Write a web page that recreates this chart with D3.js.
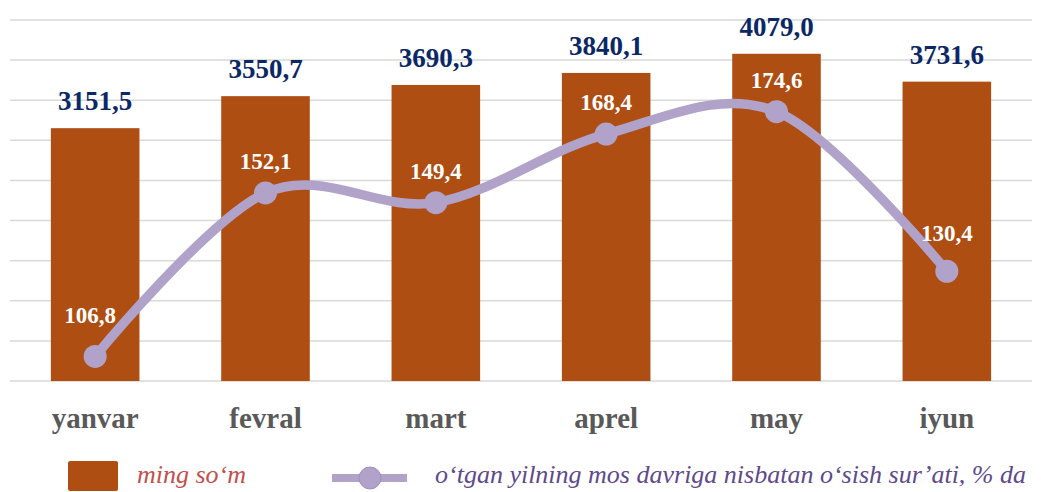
<!DOCTYPE html>
<html>
<head>
<meta charset="utf-8">
<script src="https://cdn.jsdelivr.net/npm/d3@7"></script>
<style>
  body { margin: 0; background: #fff; }
</style>
</head>
<body>
<svg id="chart" width="1041" height="492"></svg>
<script>
// data
var months = ["yanvar", "fevral", "mart", "aprel", "may", "iyun"];
var amounts = [3151.5, 3550.7, 3690.3, 3840.1, 4079.0, 3731.6];   // ming so'm
var growth = [106.8, 152.1, 149.4, 168.4, 174.6, 130.4];          // % da
var gridTicks = d3.range(0, 4501, 500);

var barColor = "#ae4e13",
    lineColor = "#b1a2ca",
    serif = "'Liberation Serif'",
    fmt = function(v){ return v.toFixed(1).replace(".", ","); };

var svg = d3.select("#chart").style("display", "block");

var x = d3.scaleBand().domain(months).range([10, 1032])
    .paddingInner(0.48).paddingOuter(0.24);
var y = d3.scaleLinear().domain([0, 4500]).range([381, 20]);
var y2 = d3.scaleLinear().domain([100, 200]).range([381, 20]);

// gridlines
svg.append("g").selectAll("line").data(gridTicks).join("line")
  .attr("x1", 10).attr("x2", 1032)
  .attr("y1", function(d){ return y(d); }).attr("y2", function(d){ return y(d); })
  .attr("stroke", "#d9d9d9").attr("stroke-width", 1.5);

// bars
svg.append("g").selectAll("rect").data(amounts).join("rect")
  .attr("x", function(d, i){ return x(months[i]); })
  .attr("y", function(d){ return y(d); })
  .attr("width", x.bandwidth())
  .attr("height", function(d){ return y(0) - y(d); })
  .attr("fill", barColor);

// bar value labels
svg.append("g").selectAll("text").data(amounts).join("text")
  .attr("x", function(d, i){ return x(months[i]) + x.bandwidth() / 2; })
  .attr("y", function(d){ return y(d) - 18; })
  .attr("text-anchor", "middle")
  .style("font-family", serif)
  .attr("font-size", 27).attr("font-weight", "bold")
  .attr("fill", "#0b2866")
  .text(fmt);

// smoothed growth line
var cx = function(d, i){ return x(months[i]) + x.bandwidth() / 2; };
var line = d3.line().x(cx).y(function(d){ return y2(d); })
  .curve(d3.curveCardinal.tension(0));

svg.append("path").datum(growth)
  .attr("d", line)
  .attr("fill", "none").attr("stroke", lineColor)
  .attr("stroke-width", 9.5).attr("stroke-linecap", "round");

svg.append("g").selectAll("circle").data(growth).join("circle")
  .attr("cx", cx).attr("cy", function(d){ return y2(d); })
  .attr("r", 11.5).attr("fill", lineColor);

svg.append("g").selectAll("text").data(growth).join("text")
  .attr("x", function(d, i){ return cx(d, i) - (i == 0 ? 5 : 0); })
  .attr("y", function(d, i){ return y2(d) - (i == 0 ? 33 : (i == 5 ? 30 : 24)); })
  .attr("text-anchor", "middle")
  .style("font-family", serif)
  .attr("font-size", 23).attr("font-weight", "bold")
  .attr("fill", "#fff")
  .text(fmt);

// category axis labels
svg.append("g").selectAll("text").data(months).join("text")
  .attr("x", function(d){ return x(d) + x.bandwidth() / 2; })
  .attr("y", 428)
  .attr("text-anchor", "middle")
  .style("font-family", serif)
  .attr("font-size", 29).attr("font-weight", "bold")
  .attr("fill", "#595959")
  .text(function(d){ return d; });

// legend
var lg = svg.append("g");
lg.append("rect").attr("x", 68).attr("y", 461).attr("width", 50).attr("height", 30)
  .attr("rx", 2).attr("fill", barColor);
lg.append("text").attr("x", 137).attr("y", 483)
  .style("font-family", serif)
  .attr("font-size", 26).attr("font-style", "italic").attr("fill", "#c0504d")
  .text("ming so‘m");
lg.append("line").attr("x1", 332).attr("x2", 407).attr("y1", 478).attr("y2", 478)
  .attr("stroke", lineColor).attr("stroke-width", 8);
lg.append("circle").attr("cx", 370).attr("cy", 478).attr("r", 11)
  .attr("fill", lineColor).attr("stroke", "#a090c0").attr("stroke-width", 1);
lg.append("text").attr("x", 435).attr("y", 483)
  .style("font-family", serif)
  .attr("font-size", 26).attr("font-style", "italic").attr("fill", "#5e4a8a")
  .text("o‘tgan yilning mos davriga nisbatan o‘sish sur’ati, % da");
</script>
</body>
</html>
